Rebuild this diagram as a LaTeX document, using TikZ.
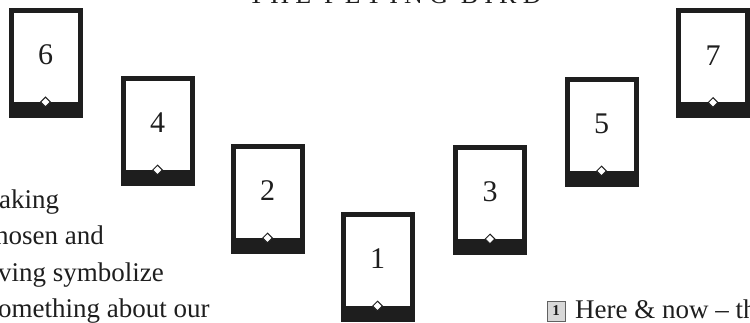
\documentclass[tikz,border=0pt]{standalone}
\usepackage{fontspec}
\setmainfont{Liberation Serif}
\usetikzlibrary{positioning, calc, shapes.geometric}
\definecolor{ink}{HTML}{1E1E1E}
\definecolor{paper}{HTML}{FFFFFF}
\definecolor{markgray}{HTML}{D8D8D8}

\begin{document}
\begin{tikzpicture}[x=1pt, y=-1pt,
  cardbox/.style={draw=ink, line width=5pt, fill=paper, inner sep=0pt,
                  minimum width=69pt, minimum height=105pt},
  cardbar/.style={fill=ink},
  cardnum/.style={font=\fontsize{30}{30}\selectfont, text=ink, inner sep=0pt},
  gem/.style={diamond, draw=ink, fill=paper, line width=1pt, inner sep=0pt,
              minimum size=10pt},
  bodytext/.style={font=\fontsize{27}{27}\selectfont, text=ink, anchor=base west,
                   inner sep=0pt},
  numbox/.style={draw=ink!70, fill=markgray, line width=0.8pt, inner sep=0pt,
                 minimum width=18pt, minimum height=20pt,
                 font=\fontsize{15}{15}\selectfont\bfseries, text=ink}
]
\useasboundingbox (0,0) rectangle (750,323);
\clip (0,0) rectangle (750,323);

% Title (only its lower edge shows)
\node[font=\fontsize{26}{26}\selectfont\addfontfeatures{LetterSpace=24}, text=ink,
      anchor=base, inner sep=0pt] (title) at (395,4) {THE FLYING BIRD};

% Cards
\foreach \n/\x/\y in {6/45.5/63, 4/157.5/131, 2/267.5/199, 1/377.5/267,
                      3/490/200, 5/601.5/132, 7/713/63.5} {
  \node[cardbox] (c\n) at (\x,\y) {};
  \fill[cardbar] (c\n.south west) rectangle ([yshift=16pt]c\n.south east);
  \node[gem] (g\n) at ([yshift=16pt]c\n.south) {};
  \node[cardnum] (n\n) at ([yshift=8pt]c\n.center) {\n};
}

% Text on the left
\node[bodytext] (line1) at (-1,209) {aking};
\node[bodytext] (line2) at (-5,245) {hosen and};
\node[bodytext] (line3) at (-2,281) {ving symbolize};
\node[bodytext] (line4) at (-2,317) {omething about our};

% Key, bottom right
\node[numbox] (key1) at (556,311) {1};
\node[bodytext] (note1) at (575,319) {Here \& now -- th};

\end{tikzpicture}
\end{document}
